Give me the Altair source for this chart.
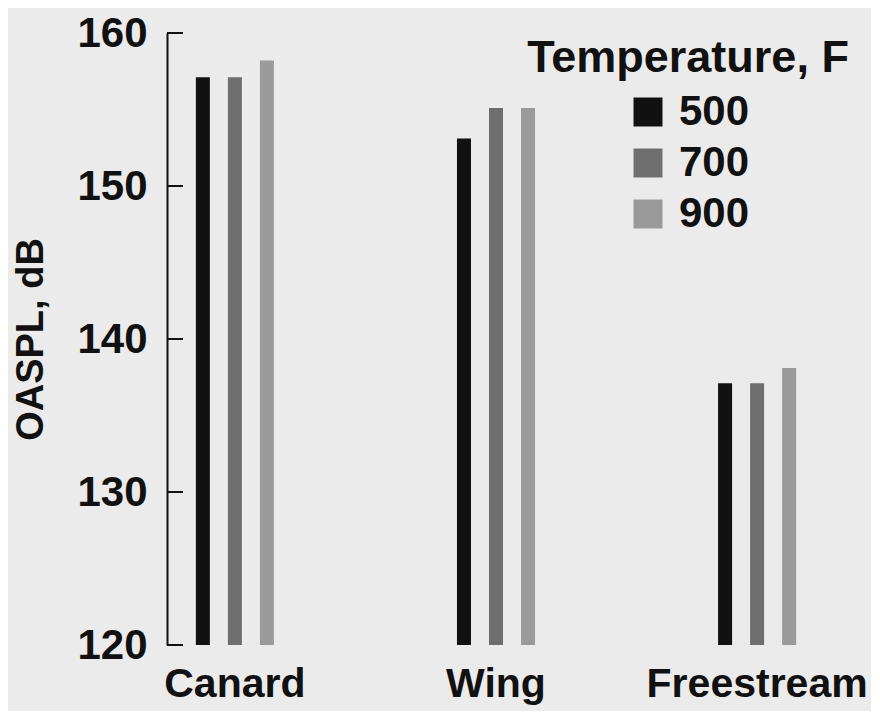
import altair as alt
import pandas as pd

locations = ["Canard", "Wing", "Freestream"]
temps = ["500", "700", "900"]
canard = [157.1, 157.1, 158.2]
wing = [153.1, 155.1, 155.1]
freestream = [137.1, 137.1, 138.1]
y_ticks = [120, 130, 140, 150, 160]
colors = ["#111111", "#6e6e6e", "#9a9a9a"]

rows = []
for loc, vals in zip(locations, [canard, wing, freestream]):
    for t, v in zip(temps, vals):
        rows.append({"loc": loc, "temp": t, "val": v})
df = pd.DataFrame(rows)
ticks_df = pd.DataFrame({"v": y_ticks})

FONT = "Liberation Sans"

bars = alt.Chart(df).mark_bar(size=14).encode(
    x=alt.X("loc:N", sort=locations,
            scale=alt.Scale(paddingInner=0.632, paddingOuter=0.076),
            axis=alt.Axis(title=None, domain=False, ticks=False, labelAngle=0,
                          labelFont=FONT, labelFontWeight="bold", labelFontSize=41,
                          labelColor="#111111", labelPadding=19, labelLimit=0,
                          labelOverlap=False)),
    xOffset=alt.XOffset("temp:N", sort=temps,
                        scale=alt.Scale(paddingInner=0.5625, paddingOuter=0.28125)),
    y=alt.Y("val:Q", scale=alt.Scale(domain=[120, 160], nice=False, zero=False, clamp=True),
            axis=alt.Axis(title="OASPL, dB", values=y_ticks, ticks=False, grid=False,
                          domainColor="#111111", domainWidth=2,
                          labelFont=FONT, labelFontWeight="bold", labelFontSize=42,
                          labelColor="#111111", labelPadding=20,
                          titleFont=FONT, titleFontWeight="bold", titleFontSize=38,
                          titleColor="#111111", titlePadding=26)),
    color=alt.Color("temp:N", sort=temps,
                    scale=alt.Scale(domain=temps, range=colors),
                    legend=alt.Legend(title="Temperature, F", orient="none",
                                      legendX=360, legendY=3,
                                      titleAnchor="middle", titleLimit=0,
                                      titleFont=FONT, titleFontWeight="bold", titleFontSize=45,
                                      titleColor="#111111", titlePadding=10,
                                      labelFont=FONT, labelFontWeight="bold", labelFontSize=42,
                                      labelColor="#111111", labelOffset=10, labelLimit=0,
                                      symbolType="square", symbolSize=841,
                                      symbolStrokeWidth=0, rowPadding=9)),
)

tick_rules = alt.Chart(ticks_df).mark_rule(color="#111111", strokeWidth=2).encode(
    y=alt.Y("v:Q"),
    x=alt.value(0),
    x2=alt.value(16),
)

chart = alt.layer(bars, tick_rules).properties(
    width=658, height=612,
    autosize=alt.AutoSizeParams(type="none"),
    padding={"left": 159, "top": 25, "right": 46, "bottom": 66},
    background="#ebebeb",
).configure_view(stroke=None)

chart.save("out.html", embed_options={"renderer": "svg", "actions": False})
